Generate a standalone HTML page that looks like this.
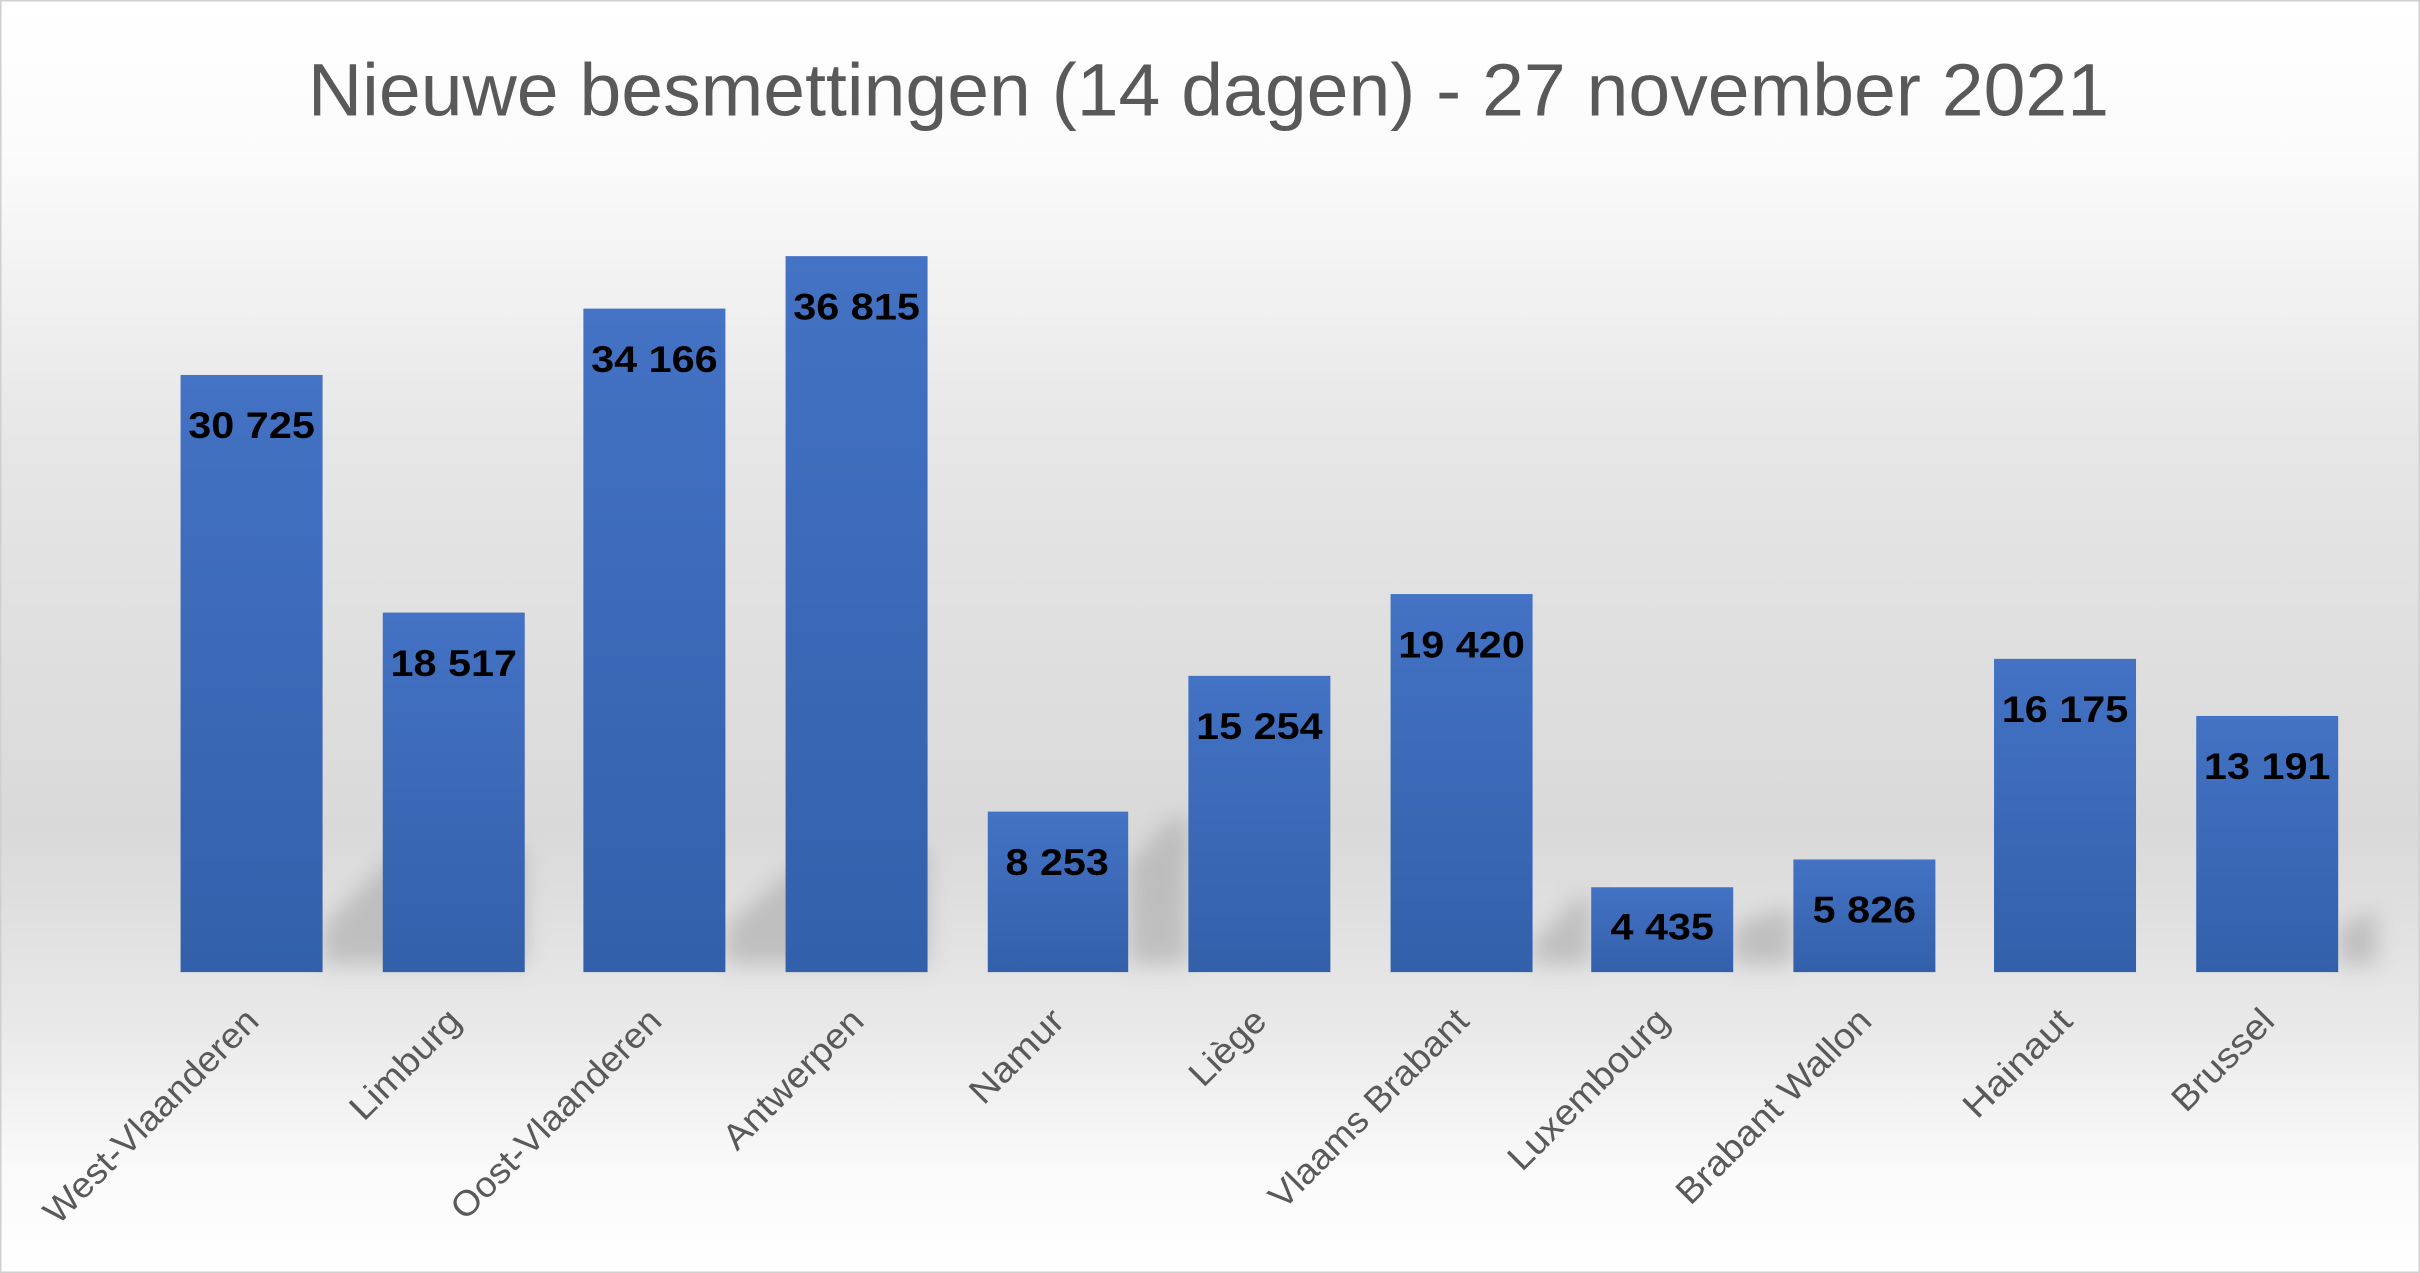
<!DOCTYPE html>
<html><head><meta charset="utf-8"><style>
html,body{margin:0;padding:0;background:#fff;}
svg{display:block;}
</style></head><body>
<svg width="2420" height="1273" viewBox="0 0 1568 825" preserveAspectRatio="none" xmlns="http://www.w3.org/2000/svg">
<defs>
<linearGradient id="bg" x1="0" y1="0" x2="0" y2="1">
<stop offset="0" stop-color="#ffffff"/>
<stop offset="0.12" stop-color="#fbfbfb"/>
<stop offset="0.35" stop-color="#e6e6e6"/>
<stop offset="0.65" stop-color="#d9d9d9"/>
<stop offset="0.8" stop-color="#e8e8e8"/>
<stop offset="0.92" stop-color="#fafafa"/>
<stop offset="1" stop-color="#ffffff"/>
</linearGradient>
<linearGradient id="bar" x1="0" y1="0" x2="0" y2="1">
<stop offset="0" stop-color="#4472c4"/>
<stop offset="1" stop-color="#3360aa"/>
</linearGradient>
<filter id="blur" x="-50%" y="-50%" width="200%" height="200%"><feGaussianBlur stdDeviation="7"/></filter>
</defs>
<rect x="0" y="0" width="1568" height="825" fill="url(#bg)"/>
<rect x="0.5" y="0.5" width="1567" height="824" fill="none" stroke="#d0d0d0" stroke-width="1"/>
<text x="783" y="75" text-anchor="middle" font-family="Liberation Sans, sans-serif" font-size="48" fill="#595959" textLength="1167" lengthAdjust="spacingAndGlyphs">Nieuwe besmettingen (14 dagen) - 27 november 2021</text>
<g filter="url(#blur)" fill="#a8a8a8" opacity="0.6">
<polygon points="209,625 209,600 260,550 340,550 340,625"/>
<polygon points="470,625 470,600 530,550 601,550 601,625"/>
<polygon points="731,625 731,560 760,530 770,530 770,625"/>
<polygon points="993,625 993,610 1025,580 1031,580 1031,625"/>
<polygon points="1123,625 1123,600 1150,590 1162,590 1162,625"/>
<polygon points="1515,625 1515,600 1540,590 1540,625"/>
</g>
<g fill="url(#bar)">
<rect x="117" y="243" width="92" height="387"/>
<rect x="248" y="397" width="92" height="233"/>
<rect x="378" y="200" width="92" height="430"/>
<rect x="509" y="166" width="92" height="464"/>
<rect x="640" y="526" width="91" height="104"/>
<rect x="770" y="438" width="92" height="192"/>
<rect x="901" y="385" width="92" height="245"/>
<rect x="1031" y="575" width="92" height="55"/>
<rect x="1162" y="557" width="92" height="73"/>
<rect x="1292" y="427" width="92" height="203"/>
<rect x="1423" y="464" width="92" height="166"/>
</g>
<g font-family="Liberation Sans, sans-serif" font-weight="bold" font-size="24" fill="#000" text-anchor="middle">
<text x="163" y="284" textLength="82" lengthAdjust="spacingAndGlyphs">30 725</text>
<text x="294" y="438" textLength="82" lengthAdjust="spacingAndGlyphs">18 517</text>
<text x="424" y="241" textLength="82" lengthAdjust="spacingAndGlyphs">34 166</text>
<text x="555" y="207" textLength="82" lengthAdjust="spacingAndGlyphs">36 815</text>
<text x="685" y="567" textLength="67" lengthAdjust="spacingAndGlyphs">8 253</text>
<text x="816" y="479" textLength="82" lengthAdjust="spacingAndGlyphs">15 254</text>
<text x="947" y="426" textLength="82" lengthAdjust="spacingAndGlyphs">19 420</text>
<text x="1077" y="609" textLength="67" lengthAdjust="spacingAndGlyphs">4 435</text>
<text x="1208" y="598" textLength="67" lengthAdjust="spacingAndGlyphs">5 826</text>
<text x="1338" y="468" textLength="82" lengthAdjust="spacingAndGlyphs">16 175</text>
<text x="1469" y="505" textLength="82" lengthAdjust="spacingAndGlyphs">13 191</text>
</g>
<g font-family="Liberation Sans, sans-serif" font-size="23" fill="#595959" text-anchor="end">
<text transform="translate(169,663) rotate(-45)" textLength="186" lengthAdjust="spacingAndGlyphs">West-Vlaanderen</text>
<text transform="translate(300,663) rotate(-45)" textLength="91" lengthAdjust="spacingAndGlyphs">Limburg</text>
<text transform="translate(430,663) rotate(-45)" textLength="182" lengthAdjust="spacingAndGlyphs">Oost-Vlaanderen</text>
<text transform="translate(561,663) rotate(-45)" textLength="118" lengthAdjust="spacingAndGlyphs">Antwerpen</text>
<text transform="translate(691,663) rotate(-45)" textLength="76" lengthAdjust="spacingAndGlyphs">Namur</text>
<text transform="translate(822,663) rotate(-45)" textLength="60" lengthAdjust="spacingAndGlyphs">Liège</text>
<text transform="translate(953,663) rotate(-45)" textLength="172" lengthAdjust="spacingAndGlyphs">Vlaams Brabant</text>
<text transform="translate(1083,663) rotate(-45)" textLength="137" lengthAdjust="spacingAndGlyphs">Luxembourg</text>
<text transform="translate(1214,663) rotate(-45)" textLength="168" lengthAdjust="spacingAndGlyphs">Brabant Wallon</text>
<text transform="translate(1344,663) rotate(-45)" textLength="89" lengthAdjust="spacingAndGlyphs">Hainaut</text>
<text transform="translate(1475,663) rotate(-45)" textLength="83" lengthAdjust="spacingAndGlyphs">Brussel</text>
</g>
</svg>
</body></html>
